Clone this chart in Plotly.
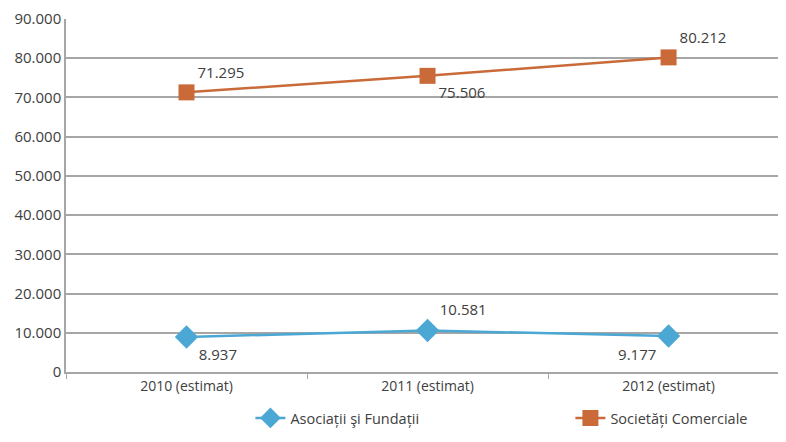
import plotly.graph_objects as go

YEARS = ["2010 (estimat)", "2011 (estimat)", "2012 (estimat)"]
ASOCIATII = [8937, 10581, 9177]
SOCIETATI = [71295, 75506, 80212]

BLUE = "#4ba7d4"
ORANGE = "#c96a38"
GRID = "#a6a6a6"
TEXT = "#404040"

fig = go.Figure()
fig.add_trace(
    go.Scatter(
        x=YEARS,
        y=ASOCIATII,
        mode="lines+markers+text",
        name="Asociații şi Fundații",
        line={"color": BLUE, "width": 2.5},
        marker={"symbol": "diamond", "size": 18, "color": BLUE},
        texttemplate="%{y:,d}",
        textposition=["bottom right", "top right", "bottom left"],
        textfont={"size": 15, "color": TEXT},
    )
)
fig.add_trace(
    go.Scatter(
        x=YEARS,
        y=SOCIETATI,
        mode="lines+markers+text",
        name="Societăți Comerciale",
        line={"color": ORANGE, "width": 2.5},
        marker={"symbol": "square", "size": 16, "color": ORANGE},
        texttemplate="%{y:,d}",
        textposition=["top right", "bottom right", "top right"],
        textfont={"size": 15, "color": TEXT},
    )
)

# page body keeps an 8px margin: size the figure so it fits without scrollbars
fig.update_layout(
    width=770,
    height=426,
    separators=",.",
    paper_bgcolor="white",
    plot_bgcolor="white",
    font={"family": "Open Sans, sans-serif", "size": 14, "color": TEXT},
    margin={"l": 58, "r": 0, "t": 11, "b": 62, "autoexpand": False},
    showlegend=True,
    legend={
        "orientation": "h",
        "x": 0.259,
        "xanchor": "left",
        "yref": "container",
        "y": 0.0,
        "yanchor": "bottom",
        "entrywidth": 275,
        "font": {"size": 14.5, "color": TEXT},
    },
)
fig.update_xaxes(
    type="category",
    range=[-0.5, 2.454],
    automargin=False,
    showgrid=False,
    showline=True,
    linecolor=GRID,
    linewidth=1.5,
    ticks="outside",
    tickson="boundaries",
    ticklen=5,
    tickcolor=GRID,
    tickfont={"size": 14},
    zeroline=False,
)
fig.update_yaxes(
    range=[0, 90000],
    dtick=10000,
    tickformat=",d",
    automargin=False,
    showgrid=True,
    gridcolor=GRID,
    gridwidth=1.5,
    showline=True,
    linecolor=GRID,
    linewidth=1.5,
    zeroline=False,
    ticks="",
    tickfont={"size": 15},
)

fig.write_html("out.html")
